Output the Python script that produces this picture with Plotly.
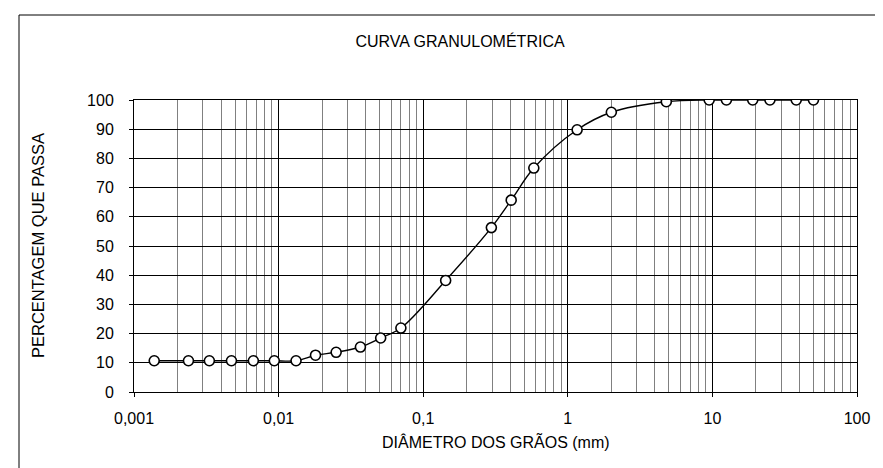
import plotly.graph_objects as go

# Data
diametro_mm = [0.00138, 0.00238, 0.00332, 0.00472, 0.00669, 0.00934, 0.0132,
               0.0180, 0.0250, 0.0368, 0.0508, 0.0701,
               0.143, 0.296, 0.406, 0.582, 1.16, 2.0,
               4.8, 9.5, 12.5, 19, 25, 38, 50]
passa_pct = [10.7, 10.7, 10.7, 10.7, 10.7, 10.7, 10.7,
             12.6, 13.6, 15.4, 18.5, 21.9,
             38.2, 56.3, 65.7, 76.7, 89.8, 95.8,
             99.4, 100, 100, 100, 100, 100, 100]

x_tickvals = [0.001, 0.01, 0.1, 1, 10, 100]
x_ticktext = ["0,001", "0,01", "0,1", "1", "10", "100"]
y_tickvals = [0, 10, 20, 30, 40, 50, 60, 70, 80, 90, 100]

W, H = 883, 468
L, R, T, B = 126, 34, 92, 84
pw, ph = W - L - R, H - T - B

font_main = "Liberation Sans, Arial, sans-serif"

fig = go.Figure(go.Scatter(
    x=diametro_mm, y=passa_pct,
    mode="lines+markers",
    line=dict(color="black", width=1.4, shape="spline", smoothing=1.0),
    marker=dict(symbol="circle", size=10, color="white",
                line=dict(color="black", width=1.6)),
    showlegend=False,
))

fig.update_xaxes(
    type="log", range=[-3, 2],
    tickvals=x_tickvals, ticktext=x_ticktext,
    showgrid=True, gridcolor="black", gridwidth=1,
    minor=dict(dtick="D1", showgrid=True, gridcolor="#808080", gridwidth=1, ticks=""),
    showline=True, linecolor="black", linewidth=1, mirror=True,
    ticks="outside", ticklen=4, tickcolor="black",
    ticklabelstandoff=8,
    tickfont=dict(family=font_main, size=16, color="black"),
    zeroline=False,
)
fig.update_yaxes(
    range=[0, 100], tickvals=y_tickvals,
    showgrid=True, gridcolor="black", gridwidth=1,
    showline=True, linecolor="black", linewidth=1, mirror=True,
    ticks="outside", ticklen=4, tickcolor="black",
    ticklabelstandoff=12,
    tickfont=dict(family=font_main, size=16, color="black"),
    zeroline=False,
)

def px_x(p):
    return (p - L) / pw

def px_y(p):
    return (H - B - p) / ph

fig.update_layout(
    width=W, height=H,
    margin=dict(l=L, r=R, t=T, b=B),
    paper_bgcolor="white", plot_bgcolor="white",
    title=dict(text="CURVA GRANULOMÉTRICA", x=452 / W, xanchor="center",
               y=1 - 33 / H, yanchor="middle", xref="container", yref="container",
               font=dict(family=font_main, size=16, color="black")),
    annotations=[
        dict(text="DIÂMETRO DOS GRÃOS (mm)", xref="paper", yref="paper",
             x=px_x(488), y=px_y(433), xanchor="center", yanchor="middle",
             showarrow=False, font=dict(family=font_main, size=16, color="black")),
        dict(text="PERCENTAGEM QUE PASSA", xref="paper", yref="paper",
             x=px_x(30), y=px_y(238), xanchor="center", yanchor="middle",
             textangle=-90, showarrow=False,
             font=dict(family=font_main, size=16.5, color="black")),
    ],
    shapes=[
        dict(type="line", xref="paper", yref="paper",
             x0=px_x(11), x1=px_x(W + 5), y0=px_y(7), y1=px_y(7),
             line=dict(color="black", width=1)),
        dict(type="line", xref="paper", yref="paper",
             x0=px_x(11), x1=px_x(11), y0=px_y(7), y1=px_y(H + 5),
             line=dict(color="black", width=1)),
    ],
)

fig.write_html("out.html")
